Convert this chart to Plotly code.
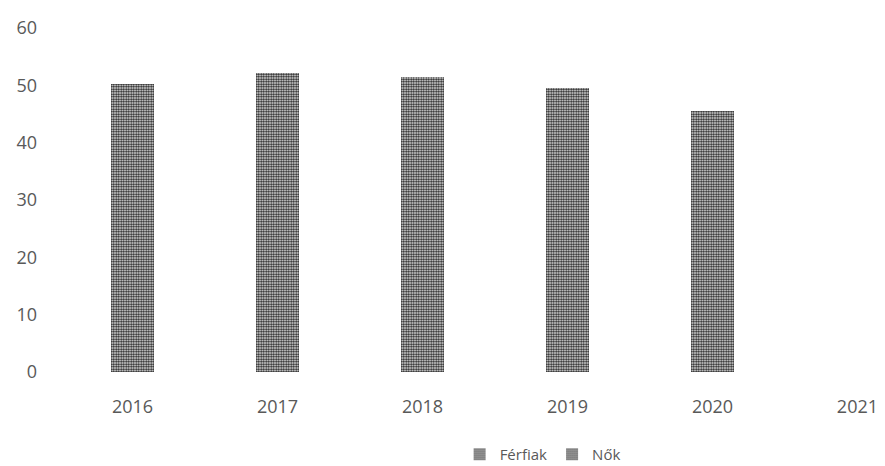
import plotly.graph_objects as go

years = ["2016", "2017", "2018", "2019", "2020", "2021"]
ferfiak = [25.5, 26.5, 26.0, 25.0, 23.0, None]
nok = [24.8, 25.7, 25.5, 24.5, 22.5, None]
y_ticks = [0, 10, 20, 30, 40, 50, 60]

text_color = "#595959"
font_family = "Open Sans, Liberation Sans, sans-serif"

x_pos = list(range(len(years)))

pattern = dict(shape=".", fgcolor="#1a1a1a", bgcolor="#ffffff",
               size=2.5, solidity=0.6, fillmode="replace")

fig = go.Figure()
fig.add_trace(go.Bar(name="Férfiak", x=x_pos, y=ferfiak, width=0.3,
                     marker=dict(color="#444444", pattern=pattern, line=dict(width=0))))
fig.add_trace(go.Bar(name="Nők", x=x_pos, y=nok, width=0.3,
                     marker=dict(color="#444444", pattern=pattern, line=dict(width=0))))

fig.update_layout(
    barmode="stack",
    width=885, height=466,
    margin=dict(l=60, r=0, t=28, b=94, autoexpand=False),
    plot_bgcolor="white", paper_bgcolor="white",
    font=dict(family=font_family, size=18, color=text_color),
    showlegend=True,
    legend=dict(orientation="h", x=0.585, xanchor="center",
                y=-0.24, yanchor="middle",
                font=dict(size=15, color=text_color), itemwidth=30,
                traceorder="normal"),
    xaxis=dict(range=[-0.5, 5.19], tickmode="array", tickvals=x_pos, ticktext=years,
               showgrid=False, zeroline=False, showline=False, ticks="",
               ticklabelstandoff=22),
    yaxis=dict(range=[0, 60], tickmode="array", tickvals=y_ticks,
               showgrid=False, zeroline=False, showline=False, ticks="",
               ticklabelstandoff=22),
)

fig.write_html("out.html")
